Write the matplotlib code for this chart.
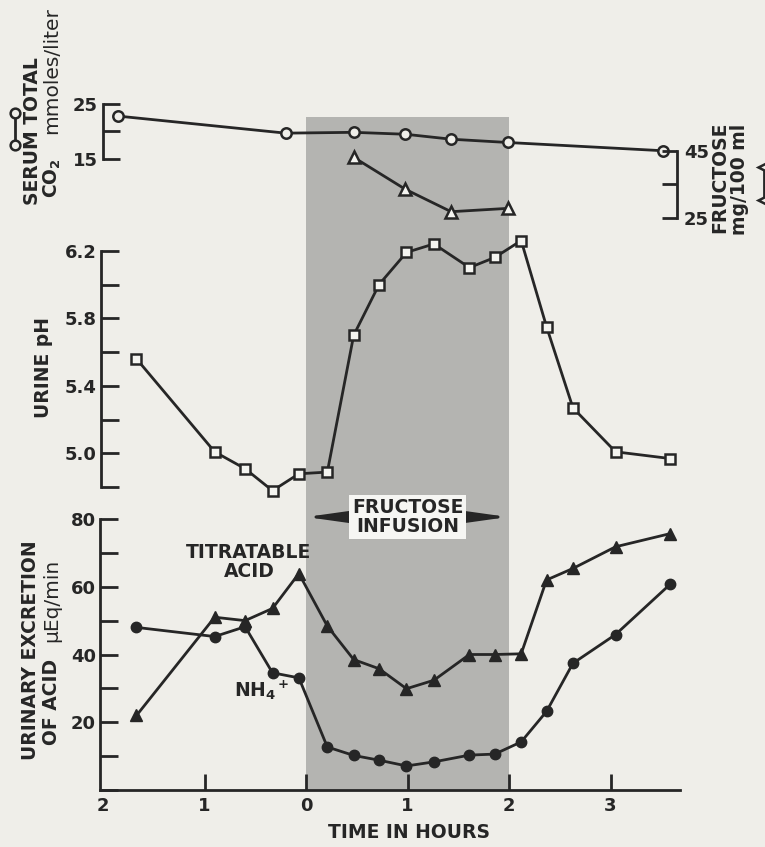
import matplotlib
matplotlib.use("Agg")
from matplotlib import pyplot as plt
from matplotlib.lines import Line2D

# urine collection times (hours from start of infusion) and values
urine_t = [-1.67, -0.90, -0.60, -0.33, -0.07, 0.21, 0.47, 0.72, 0.99, 1.26, 1.61, 1.86, 2.12, 2.37, 2.63, 3.05, 3.59]
urine_ph = [5.56, 5.01, 4.91, 4.78, 4.88, 4.89, 5.70, 6.00, 6.19, 6.24, 6.10, 6.16, 6.26, 5.75, 5.27, 5.01, 4.97]
titratable = [22, 51, 50, 53.6, 63.9, 48.4, 38.5, 35.8, 29.9, 32.4, 40, 40, 40.2, 62, 65.4, 71.8, 75.7]
nh4 = [48, 45.3, 48.2, 34.6, 33.1, 12.7, 10.2, 8.8, 7.1, 8.3, 10.3, 10.6, 14.2, 23.2, 37.4, 45.9, 60.8]

# serum values
co2_t = [-1.85, -0.20, 0.47, 0.98, 1.43, 1.99, 3.52]
co2 = [22.8, 19.7, 19.85, 19.5, 18.6, 18.0, 16.5]
fru_t = [0.47, 0.98, 1.43, 1.99]
fructose = [43.1, 33.5, 26.8, 27.8]

x_ticks = [-2, -1, 0, 1, 2, 3]
x_labels = ["2", "1", "0", "1", "2", "3"]
infusion = (0, 2)

W, H = 765, 847
BG = "#efeee9"
SHADE = "#b4b4b1"
INK = "#262626"
plt.rcParams["font.family"] = ["DejaVu Sans"]
plt.rcParams["font.weight"] = "bold"
plt.rcParams["mathtext.default"] = "bf"


def box(x0, y0, x1, y1):
    return [x0 / W, 1 - y1 / H, (x1 - x0) / W, (y1 - y0) / H]


def hx(px):
    return (px - 306) / 101.5


def panel(x0, y0, x1, y1):
    a = fig.add_axes(box(x0, y0, x1, y1))
    a.set_xlim(hx(x0), hx(x1))
    a.patch.set_visible(False)
    for s in a.spines.values():
        s.set_visible(False)
        s.set_linewidth(2.0)
        s.set_color(INK)
    a.set_xticks([])
    a.tick_params(colors=INK, width=2.0, labelsize=13)
    return a


fig = plt.figure(figsize=(W / 100, H / 100), dpi=100, facecolor=BG)

# shaded infusion period
bg = panel(100, 117, 680, 790)
bg.set_ylim(0, 1)
bg.set_yticks([])
bg.axvspan(*infusion, color=SHADE, lw=0)

line_kw = dict(color=INK, lw=2.0, clip_on=False, zorder=3)

# serum total CO2
ax_co2 = panel(103, 104, 680, 159)
ax_co2.set_ylim(15, 25)
ax_co2.spines["left"].set_visible(True)
ax_co2.set_yticks([15, 20, 25], ["15", "", "25"])
ax_co2.tick_params(axis="y", direction="in", length=12, pad=4)
ax_co2.plot(co2_t, co2, marker="o", ms=7.5, mfc=BG, mew=1.8, **line_kw)

# serum fructose
ax_fru = panel(100, 151, 677, 217.7)
ax_fru.set_ylim(25, 45)
ax_fru.spines["right"].set_visible(True)
ax_fru.yaxis.tick_right()
ax_fru.set_yticks([25, 35, 45], ["25", "", "45"])
ax_fru.tick_params(axis="y", direction="in", length=11, pad=5)
ax_fru.plot(fru_t, fructose, marker="^", ms=9, mfc="#f4f4f0", mew=1.8, **line_kw)

# urine pH
ax_ph = panel(101, 250.7, 680, 487.3)
ax_ph.set_ylim(4.8, 6.2)
ax_ph.spines["left"].set_visible(True)
ph_ticks = [4.8, 5.0, 5.2, 5.4, 5.6, 5.8, 6.0, 6.2]
ax_ph.set_yticks(ph_ticks, ["", "5.0", "", "5.4", "", "5.8", "", "6.2"])
ax_ph.tick_params(axis="y", direction="in", length=13, pad=3)
ax_ph.plot(urine_t, urine_ph, marker="s", ms=7, mfc="#f4f4f0", mew=1.8, **line_kw)

# urinary excretion of acid
ax = panel(100, 519, 680, 790)
ax.set_ylim(0, 80)
ax.spines["left"].set_visible(True)
ax.spines["bottom"].set_visible(True)
ax.set_yticks(range(0, 81, 10), ["", "", "20", "", "40", "", "60", "", "80"])
ax.set_xticks(x_ticks, x_labels)
ax.xaxis.get_major_ticks()[0].tick1line.set_visible(False)
ax.tick_params(axis="y", direction="in", length=13, pad=3)
ax.tick_params(axis="x", direction="in", length=11.5, pad=5)
ax.plot(urine_t, titratable, marker="^", ms=9, mfc=INK, **line_kw)
ax.plot(urine_t, nh4, marker="o", ms=7.5, mfc=INK, **line_kw)

# text and decorations in pixel coordinates
ov = fig.add_axes([0, 0, 1, 1])
ov.set_xlim(0, W)
ov.set_ylim(H, 0)
ov.axis("off")
ov.patch.set_visible(False)

txt = dict(color=INK, fontsize=13.5, fontweight="bold")
thin = dict(color=INK, fontsize=14.5, fontweight="normal")
rot = dict(rotation=90, rotation_mode="anchor", va="center")

ov.text(32, 205, "SERUM TOTAL", ha="left", **rot, **txt)
ov.text(52, 198, "CO$_2$", ha="left", **rot, **txt)
ov.text(52, 134, "mmoles/liter", ha="left", **rot, **thin)
ov.add_line(Line2D([15, 15], [113, 145], color=INK, lw=2.0, marker="o", ms=7, mfc=BG, mew=1.8))

ov.text(720, 233, "FRUCTOSE", ha="left", **rot, **txt)
ov.text(740, 235, "mg/100 ml", ha="left", **rot, **txt)
ov.add_line(Line2D([764, 764], [167, 200], color=INK, lw=2.0, marker="<", ms=9, mfc=BG, mew=1.8, clip_on=False))

ov.text(44, 418, "URINE pH", ha="left", **rot, **txt)

ov.text(30, 760, "URINARY EXCRETION", ha="left", **rot, **txt)
ov.text(52, 745, "OF ACID", ha="left", **rot, **txt)
ov.text(52, 642, "µEq/min", ha="left", **rot, **thin)

ov.text(249, 562, "TITRATABLE\nACID", ha="center", va="center", linespacing=1.0, **txt)
ov.text(262, 690, "NH$_4$$^+$", ha="center", va="center", **txt)

ov.text(408, 517, "FRUCTOSE\nINFUSION", ha="center", va="center", linespacing=1.0, zorder=5,
        bbox=dict(facecolor="#f6f6f3", edgecolor="none", pad=2), **txt)
arrow = dict(arrowstyle="-|>,head_length=2.0,head_width=0.28", color=INK, lw=2.0,
             mutation_scale=12, shrinkA=0, shrinkB=0)
ov.annotate("", xy=(306, 517), xytext=(354, 517), arrowprops=arrow)
ov.annotate("", xy=(508, 517), xytext=(462, 517), arrowprops=arrow)

ov.text(409, 833, "TIME IN HOURS", ha="center", va="center", **txt)

fig.savefig("out.png", dpi=100, facecolor=BG)
